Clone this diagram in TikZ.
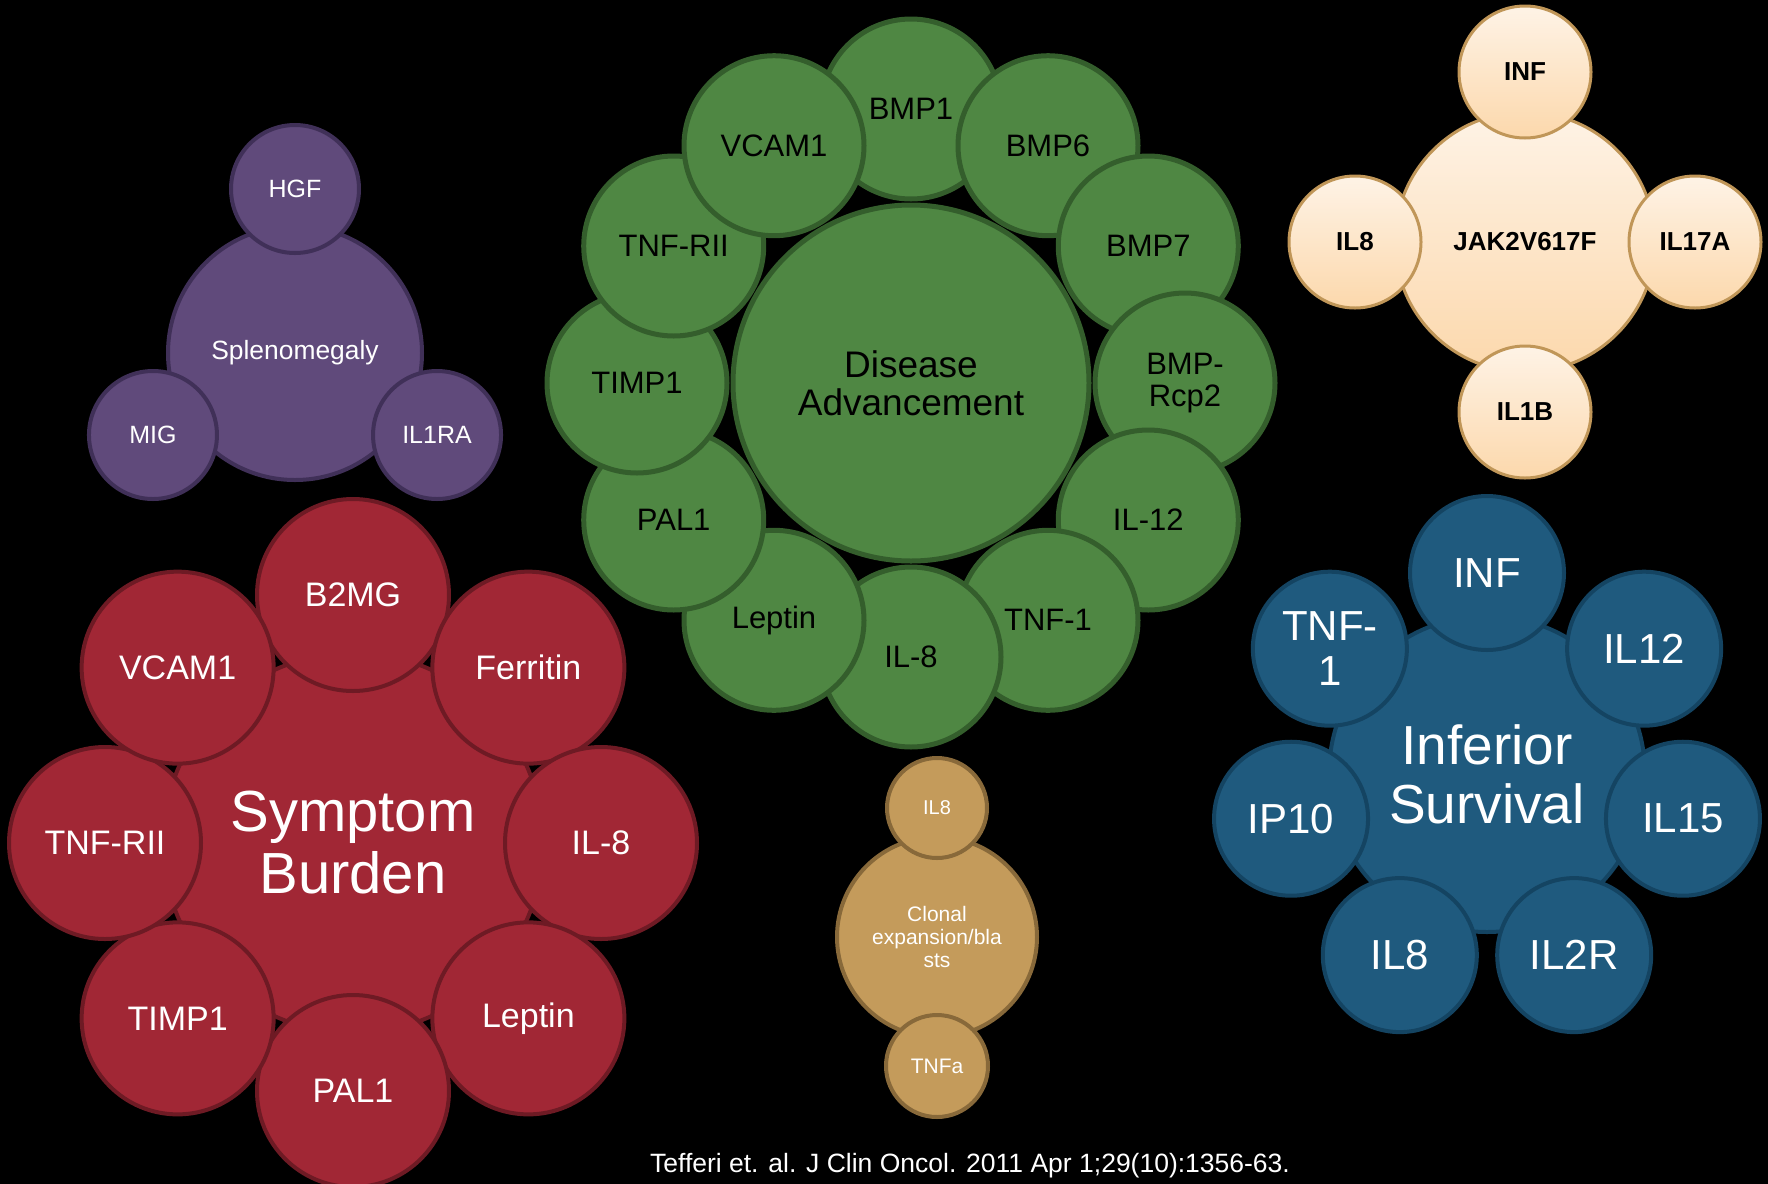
\documentclass[tikz,border=0pt]{standalone}
\usepackage{fontspec}
\setmainfont{Liberation Sans}
\usetikzlibrary{calc}

\definecolor{purplefill}{RGB}{96,74,123}
\definecolor{purpleline}{RGB}{64,48,88}
\definecolor{redfill}{RGB}{161,39,53}
\definecolor{redline}{RGB}{110,26,36}
\definecolor{greenfill}{RGB}{79,135,67}
\definecolor{greenline}{RGB}{52,94,44}
\definecolor{bluefill}{RGB}{31,90,126}
\definecolor{blueline}{RGB}{20,68,98}
\definecolor{creamtop}{RGB}{254,243,230}
\definecolor{creambottom}{RGB}{252,216,172}
\definecolor{creamline}{RGB}{192,150,88}
\definecolor{tanfill}{RGB}{196,155,91}
\definecolor{tanline}{RGB}{136,105,58}

\newcommand{\pxfont}[2]{\fontsize{#1}{#2}\selectfont}

\tikzset{
  bubble/.style={circle, draw, inner sep=0pt, align=center, line width=2pt},
  purplebub/.style={bubble, fill=purplefill, draw=purpleline, text=white},
  redbub/.style={bubble, fill=redfill, draw=redline, text=white},
  greenbub/.style={bubble, fill=greenfill, draw=greenline, text=black, line width=2.5pt},
  bluebub/.style={bubble, fill=bluefill, draw=blueline, text=white},
  creambub/.style={bubble, top color=creamtop, bottom color=creambottom, draw=creamline,
    text=black, line width=1.5pt, font=\bfseries\pxfont{13}{15}},
  tanbub/.style={bubble, fill=tanfill, draw=tanline, text=white}
}

\begin{document}
\begin{tikzpicture}[x=0.5pt,y=0.5pt]
  \useasboundingbox (0,0) rectangle (1768,-1184);
  \fill[black] (0,0) rectangle (1768,-1184);

  % splenomegaly
  \node[purplebub, minimum size=127pt, font=\pxfont{13.2}{15}] (spleno) at (295,-353) {Splenomegaly};
  \foreach \ang/\lab [count=\i] in {90/HGF, 210/MIG, 330/IL1RA}
    \node[purplebub, minimum size=64pt, font=\pxfont{12.5}{14}] (spleno\i) at ($(spleno)+(\ang:164)$) {\lab};

  % symptom burden
  \node[redbub, minimum size=190pt, font=\pxfont{29}{31}] (symptom) at (353,-843) {Symptom\\Burden};
  \foreach \ang/\lab [count=\i] in {90/B2MG, 45/Ferritin, 0/IL-8, -45/Leptin, -90/PAL1,
      -135/TIMP1, 180/TNF-RII, 135/VCAM1}
    \node[redbub, minimum size=96pt, font=\pxfont{17}{19}] (symptom\i) at ($(symptom)+(\ang:248)$) {\lab};

  % disease advancement
  \coordinate (disease-c) at (911,-383);
  \foreach \ang/\lab [count=\i] in {90/BMP1, 60/BMP6, 30/BMP7, 0/{BMP-\\Rcp2}, -30/IL-12,
      -60/TNF-1, -90/IL-8, -120/Leptin, -150/PAL1, 180/TIMP1, 150/TNF-RII, 120/VCAM1}
    \node[greenbub, minimum size=90pt, font=\pxfont{15.5}{16}] (disease\i) at ($(disease-c)+(\ang:274)$) {\lab};
  \node[greenbub, minimum size=178pt, font=\pxfont{18.5}{19}] (disease) at (disease-c) {Disease\\Advancement};

  % inferior survival
  \node[bluebub, minimum size=158pt, font=\pxfont{27.5}{29.5}] (survival) at (1487,-774) {Inferior\\Survival};
  \foreach \ang/\lab [count=\i] in {90/INF, 38.57/IL12, -12.86/IL15, -64.29/IL2R,
      -115.71/IL8, -167.14/IP10, 141.43/{TNF-\\1}}
    \node[bluebub, minimum size=77pt, font=\pxfont{21}{22.5}] (survival\i) at ($(survival)+(\ang:201)$) {\lab};

  % JAK2
  \node[creambub, minimum size=130pt] (jak) at (1525,-242) {JAK2V617F};
  \foreach \ang/\lab [count=\i] in {90/INF, 0/IL17A, -90/IL1B, 180/IL8}
    \node[creambub, minimum size=66pt] (jak\i) at ($(jak)+(\ang:170)$) {\lab};

  % clonal expansion
  \node[tanbub, minimum size=100pt, font=\pxfont{10.5}{11.3}] (clonal) at (937,-937) {Clonal\\expansion/bla\\sts};
  \node[tanbub, minimum size=50pt, font=\pxfont{10}{11}] (clonal1) at ($(clonal)+(0,129)$) {IL8};
  \node[tanbub, minimum size=51pt, font=\pxfont{10.5}{11}] (clonal2) at ($(clonal)+(0,-129)$) {TNFa};

  \node[text=white, font=\pxfont{13.25}{15}] (ref) at (970,-1166) {Tefferi et. al. J Clin Oncol. 2011 Apr 1;29(10):1356-63.};
\end{tikzpicture}
\end{document}
